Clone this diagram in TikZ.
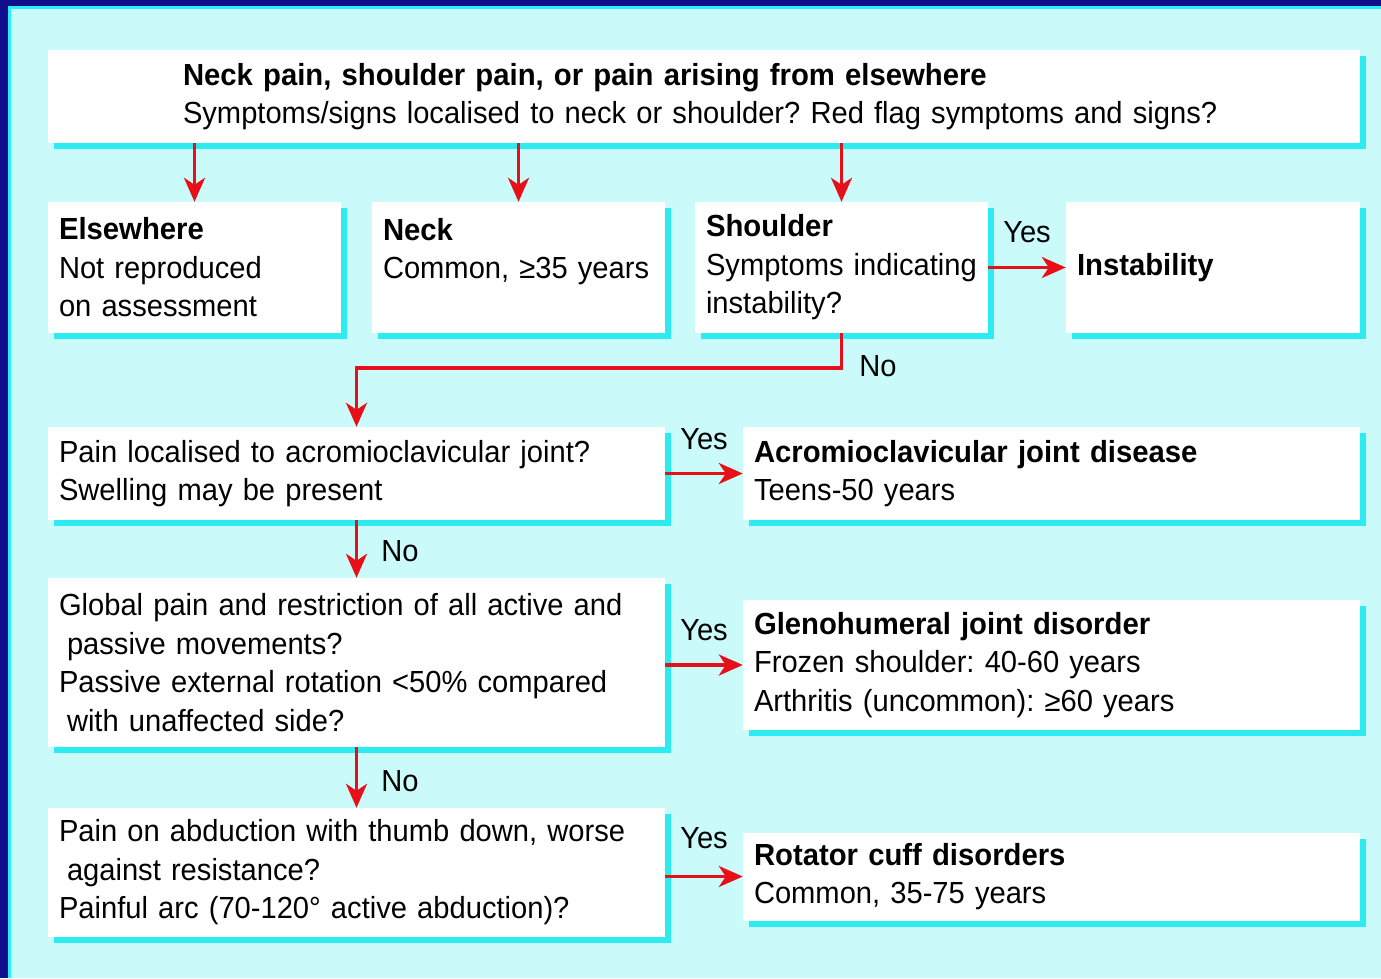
\documentclass[tikz,border=0pt]{standalone}
\usepackage{fontspec}
\setmainfont{Liberation Sans}[FakeStretch=0.955,BoldFeatures={FakeStretch=0.96}]
\usetikzlibrary{arrows.meta,shadows}
\definecolor{frameblue}{RGB}{16,16,140}
\definecolor{rimcyan}{RGB}{40,240,250}
\definecolor{palecyan}{RGB}{202,250,250}
\definecolor{shadecyan}{RGB}{44,236,242}
\definecolor{flagred}{RGB}{232,16,24}
\tikzset{
  box/.style={fill=white,general shadow={fill=shadecyan,shadow xshift=6pt,shadow yshift=-6pt},
    inner xsep=11pt,inner ysep=0pt,align=left,text width=#1},
  arr/.style={draw=flagred,line width=3.5pt,-{Stealth[length=24pt,width=21pt,inset=7pt]}},
  lbl/.style={inner sep=0pt}
}

\begin{document}
\frenchspacing
\begin{tikzpicture}[x=1pt,y=-1pt,font=\fontsize{30.5}{38.5}\selectfont]
\useasboundingbox (0,0) rectangle (1381,978);
% frame and background
\fill[frameblue] (0,0) rectangle (1381,978);
\fill[rimcyan] (8,6) rectangle (1381,978);
\fill[palecyan] (11,9) rectangle (1381,978);

% boxes
\node[box=1042,inner xsep=135,minimum height=93] (top) at (704,96.5)
  {\textbf{Neck pain, shoulder pain, or pain arising from elsewhere}\\Symptoms/signs localised to neck or shoulder? Red flag symptoms and signs?};
\node[box=271,minimum height=131] (else) at (194.5,267.5) {\textbf{Elsewhere}\\Not reproduced\\on assessment};
\node[box=271,minimum height=131] (neck) at (518.5,267.5) {\textbf{Neck}\\Common, ≥35 years\\\mbox{}};
\node[box=271,minimum height=131] (shoulder) at (841.5,267.5) {\textbf{Shoulder}\\Symptoms indicating\\instability?};
\node[box=272,minimum height=131] (instab) at (1213,267.5) {\textbf{Instability}};
\node[box=595,minimum height=93] (acj) at (356.5,473.5) {Pain localised to acromioclavicular joint?\\Swelling may be present};
\node[box=595,minimum height=93] (acjd) at (1051.5,473.5) {\textbf{Acromioclavicular joint disease}\\Teens-50 years};
\node[box=595,minimum height=169] (glob) at (356.5,662.5) {Global pain and restriction of all active and\\\hspace*{8pt}passive movements?\\Passive external rotation <50\% compared\\\hspace*{8pt}with unaffected side?};
\node[box=595,minimum height=130] (gleno) at (1051.5,665) {\textbf{Glenohumeral joint disorder}\\Frozen shoulder: 40-60 years\\Arthritis (uncommon): ≥60 years};
\node[box=595,minimum height=129] (abd) at (356.5,872.5) {Pain on abduction with thumb down, worse\\\hspace*{8pt}against resistance?\\Painful arc (70-120° active abduction)?};
\node[box=595,minimum height=88] (rotator) at (1051.5,876.5) {\textbf{Rotator cuff disorders}\\Common, 35-75 years};

% connectors
\draw[arr] (else.north |- top.south) -- (else.north);
\draw[arr] (neck.north |- top.south) -- (neck.north);
\draw[arr] (shoulder.north |- top.south) -- (shoulder.north);
\draw[arr] (shoulder.east) -- (instab.west);
\draw[arr] (shoulder.south) -- ++(0,35) -| (acj.north);
\draw[arr] (acj.east) -- (acjd.west);
\draw[arr] (acj.south) -- (glob.north);
\draw[arr] (glob.east |- gleno.west) -- (gleno.west);
\draw[arr] (glob.south) -- (abd.north);
\draw[arr] (abd.east |- rotator.west) -- (rotator.west);

% labels
\node[lbl] (yes1) at (1027,232) {Yes};
\node[lbl] (no1) at (878,366) {No};
\node[lbl] (yes2) at (704,439) {Yes};
\node[lbl] (no2) at (400,551) {No};
\node[lbl] (yes3) at (704,630) {Yes};
\node[lbl] (no3) at (400,781) {No};
\node[lbl] (yes4) at (704,838) {Yes};
\end{tikzpicture}
\end{document}
